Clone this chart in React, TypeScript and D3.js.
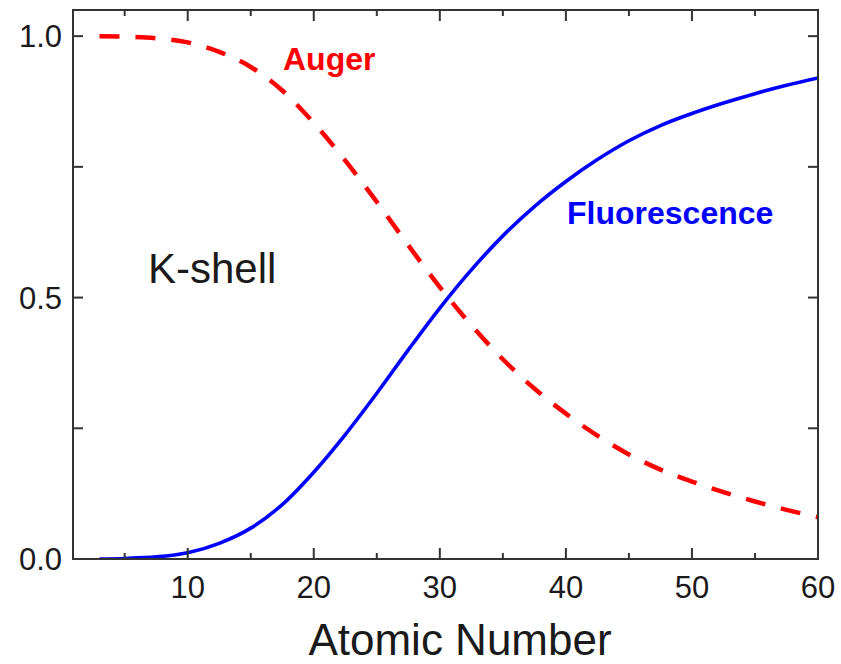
import React from "react";
import * as d3 from "d3";

const atomicNumbers = [3, 5, 7.5, 10, 12.5, 15, 17.5, 20, 22.5, 25, 27.5, 30, 32.5, 35, 37.5, 40, 42.5, 45, 47.5, 50, 52.5, 55, 57.5, 60];
const fluorescence = [0.0, 0.001, 0.004, 0.012, 0.03, 0.059, 0.104, 0.166, 0.238, 0.317, 0.4, 0.48, 0.553, 0.618, 0.674, 0.722, 0.764, 0.8, 0.829, 0.852, 0.872, 0.89, 0.906, 0.92];
const auger = [1.0, 0.999, 0.996, 0.988, 0.97, 0.941, 0.896, 0.834, 0.762, 0.683, 0.6, 0.52, 0.447, 0.382, 0.326, 0.278, 0.236, 0.2, 0.171, 0.148, 0.128, 0.11, 0.094, 0.08];
const xMajorTicks = [10, 20, 30, 40, 50, 60];
const xMinorTicks = [5, 15, 25, 35, 45, 55];
const yMajorTicks = [0, 0.5, 1.0];
const yMinorTicks = [0.25, 0.75];

const W = 841;
const H = 664;
const left = 73, right = 818, top = 10, bottom = 559;
const FONT = "'Liberation Sans', Arial, Helvetica, sans-serif";

export default function App() {
  const x = d3.scaleLinear().domain([0.9, 60]).range([left, right]);
  const y = d3.scaleLinear().domain([0, 1.05]).range([bottom, top]);

  const lineGen = d3
    .line<[number, number]>()
    .x((d) => x(d[0]))
    .y((d) => y(d[1]))
    .curve(d3.curveMonotoneX);

  const fPath = lineGen(atomicNumbers.map((z, i) => [z, fluorescence[i]] as [number, number])) || "";
  const aPath = lineGen(atomicNumbers.map((z, i) => [z, auger[i]] as [number, number])) || "";

  const axisColor = "#333";
  const majorLen = 11;
  const minorLen = 6;
  const yTickLen = 10;

  return (
    <svg
      width={W}
      height={H}
      style={{ position: "absolute", left: 0, top: 0, background: "#fff" }}
      xmlns="http://www.w3.org/2000/svg"
    >
      <rect x={0} y={0} width={W} height={H} fill="#fff" />
      <defs>
        <clipPath id="plotClip">
          <rect x={left} y={top} width={right - left} height={bottom - top} />
        </clipPath>
      </defs>

      <g clipPath="url(#plotClip)">
        <path d={fPath} fill="none" stroke="#0000ff" strokeWidth={3.6} />
        <path d={aPath} fill="none" stroke="#ff0000" strokeWidth={4.5} strokeDasharray="20 16" />
      </g>

      <rect x={left} y={top} width={right - left} height={bottom - top} fill="none" stroke={axisColor} strokeWidth={2} />

      {xMajorTicks.map((t) => (
        <g key={"xm" + t}>
          <line x1={x(t)} x2={x(t)} y1={bottom} y2={bottom - majorLen} stroke={axisColor} strokeWidth={2} />
          <line x1={x(t)} x2={x(t)} y1={top} y2={top + majorLen} stroke={axisColor} strokeWidth={2} />
          <text x={x(t)} y={598} textAnchor="middle" fontFamily={FONT} fontSize={31} fill="#1a1a1a">
            {t}
          </text>
        </g>
      ))}
      {xMinorTicks.map((t) => (
        <g key={"xn" + t}>
          <line x1={x(t)} x2={x(t)} y1={bottom} y2={bottom - minorLen} stroke={axisColor} strokeWidth={2} />
          <line x1={x(t)} x2={x(t)} y1={top} y2={top + minorLen} stroke={axisColor} strokeWidth={2} />
        </g>
      ))}

      {yMajorTicks.map((t) => (
        <g key={"ym" + t}>
          <line x1={left} x2={left + yTickLen} y1={y(t)} y2={y(t)} stroke={axisColor} strokeWidth={2} />
          <line x1={right} x2={right - yTickLen} y1={y(t)} y2={y(t)} stroke={axisColor} strokeWidth={2} />
          <text x={62} y={y(t) + 11} textAnchor="end" fontFamily={FONT} fontSize={31} fill="#1a1a1a">
            {d3.format(".1f")(t)}
          </text>
        </g>
      ))}
      {yMinorTicks.map((t) => (
        <g key={"yn" + t}>
          <line x1={left} x2={left + yTickLen} y1={y(t)} y2={y(t)} stroke={axisColor} strokeWidth={2} />
          <line x1={right} x2={right - yTickLen} y1={y(t)} y2={y(t)} stroke={axisColor} strokeWidth={2} />
        </g>
      ))}

      <text x={283} y={70} fontFamily={FONT} fontSize={32} fontWeight="bold" fill="#ff0000">
        Auger
      </text>
      <text x={567} y={224} fontFamily={FONT} fontSize={32} fontWeight="bold" fill="#0000ff">
        Fluorescence
      </text>
      <text x={148} y={283} fontFamily={FONT} fontSize={42} fill="#1a1a1a">
        K-shell
      </text>
      <text x={460} y={655} textAnchor="middle" fontFamily={FONT} fontSize={44} fill="#1a1a1a">
        Atomic Number
      </text>
    </svg>
  );
}
